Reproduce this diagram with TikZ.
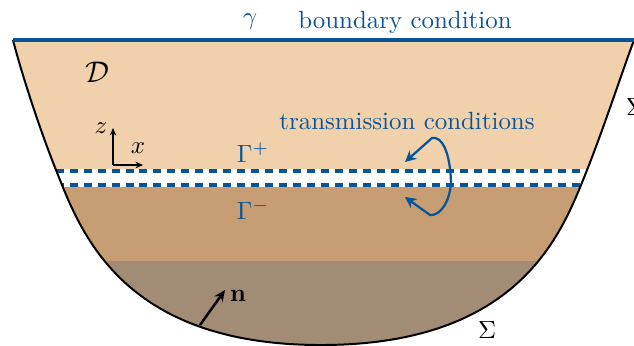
\documentclass[tikz,border=0pt]{standalone}
\usepackage{amsmath}
\usepackage{amssymb}
\usetikzlibrary{arrows.meta,calc}
\definecolor{sandtop}{rgb}{0.94,0.82,0.67}
\definecolor{sandmid}{rgb}{0.78,0.62,0.45}
\definecolor{sandlow}{rgb}{0.64,0.55,0.46}
\definecolor{darkcerulean}{rgb}{0.03,0.33,0.6}
\tikzset{
  cond/.style={
    text=darkcerulean,
    inner sep=1pt
  },
  interfaz/.style={
    darkcerulean,
    line width=1.5pt,
    dash pattern=on 3.2pt off 2.4pt
  },
  flecha/.style={
    -{Stealth[length=4.5pt,width=4.5pt]},
    darkcerulean,
    line width=0.9pt
  },
  eje/.style={
    -{Stealth[length=3pt,width=2.6pt]},
    line width=0.5pt
  },
  normal/.style={
    -{Stealth[length=4.5pt,width=4pt]},
    line width=1pt
  }
}
\newcommand{\cuenca}{(13,40) .. controls (22,75) and (40,130) .. (56,170)
  .. controls (80,230) and (120,345) .. (321,345)
  .. controls (523,345) and (563,230) .. (587,170)
  .. controls (603,130) and (621,75) .. (634,40)}

\begin{document}
\begin{tikzpicture}[x=0.1411mm,y=-0.1411mm]
\useasboundingbox (0,0) rectangle (634,345);
% the basin
\coordinate (TL) at (13,40);
\begin{scope}
\clip \cuenca -- cycle;
\fill[sandtop] (0,40) rectangle (640,169);
\fill[white] (0,169) rectangle (640,187);
\fill[sandmid] (0,187) rectangle (640,261);
\fill[sandlow] (0,261) rectangle (640,350);
\draw[interfaz] (0,171) -- (640,171);
\draw[interfaz] (0,185) -- (640,185);
\end{scope}
\draw[line width=0.8pt] \cuenca;
\draw[darkcerulean,line width=1.3pt] (TL) -- (640,40);
% labels
\node[cond] (gamma) at (250,22) {$\gamma$};
\node[cond] (bc) at (405,22) {boundary condition};
\node (D) at (97,72) {\large$\mathcal{D}$};
\node[cond] (tc) at (407,121) {transmission conditions};
\node[cond] (gp) at (253,153) {$\Gamma^+$};
\node[cond] (gm) at (253,210) {$\Gamma^-$};
\node (sigr) at (635,107) {$\Sigma$};
\node (sigb) at (487,330) {$\Sigma$};
% axes
\coordinate (O) at (113,165);
\coordinate (zt) at (113,128);
\coordinate (xt) at (143,165);
\draw[eje] (O) -- (zt);
\draw[eje] (O) -- (xt);
\node (zl) at (101,128) {$z$};
\node (xl) at (138,148) {$x$};
% transmission arrows
\coordinate (v) at (451,182);
\coordinate (up) at (405,162);
\coordinate (dn) at (405,197);
\draw[flecha] (v) .. controls (450,152) and (442,136) .. (432,138) -- (up);
\draw[flecha] (v) .. controls (450,202) and (440,216) .. (430,215) -- (dn);
% normal
\coordinate (nb) at (200,325);
\coordinate (nt) at (225,290);
\draw[normal] (nb) -- (nt);
\node (n) at (238,296) {$\mathbf{n}$};
\end{tikzpicture}
\end{document}
